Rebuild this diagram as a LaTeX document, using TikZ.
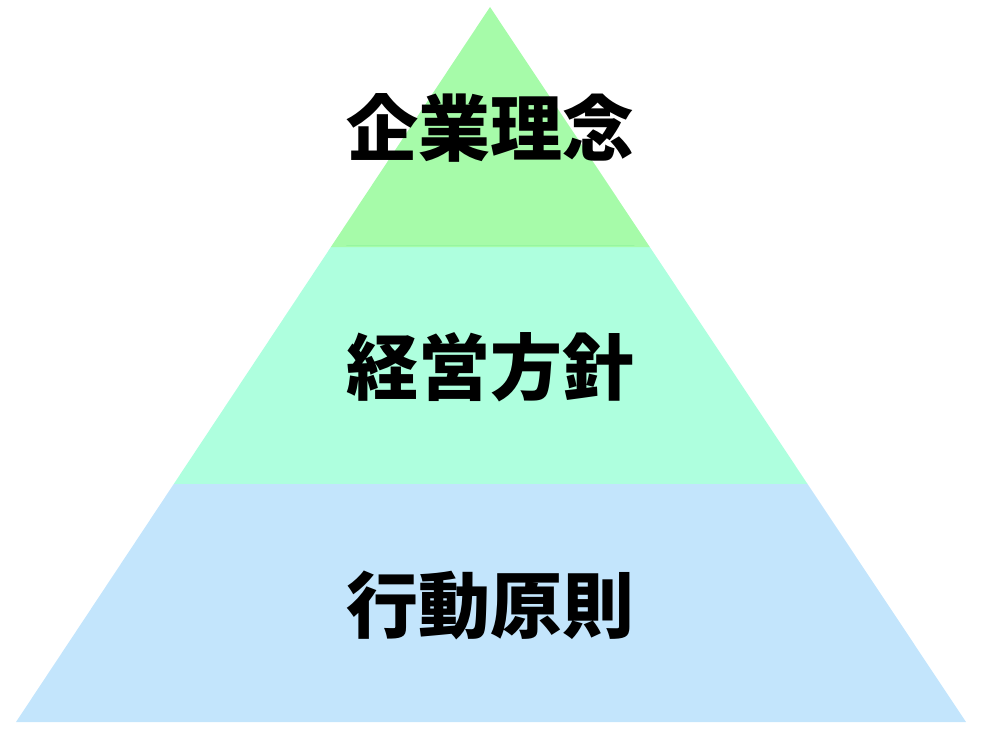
\documentclass[tikz,border=0pt]{standalone}
\usepackage{fontspec}
\newfontfamily\cjk{Noto Sans CJK JP}
\definecolor{topgreen}{RGB}{166,251,169}
\definecolor{midgreen}{RGB}{174,255,222}
\definecolor{botblue}{RGB}{195,229,252}
\definecolor{seam}{RGB}{150,246,160}
\tikzset{
  label/.style={font=\cjk\bfseries\fontsize{72}{72}\selectfont, text=black, inner sep=0pt, anchor=center},
}
\begin{document}
\begin{tikzpicture}[x=1pt,y=1pt]
\useasboundingbox (0,0) rectangle (984,748);
% geometry: apex (490,741), base y=26 from 16 to 966
\coordinate (apex) at (490,741);
\coordinate (bl) at (16,26);
\coordinate (br) at (966,26);
% boundary levels
\path (apex) -- (bl) coordinate[pos=0.3357] (l1) coordinate[pos=0.6671] (l2);
\path (apex) -- (br) coordinate[pos=0.3357] (r1) coordinate[pos=0.6671] (r2);
\fill[botblue] (l2) -- (r2) -- (br) -- (bl) -- cycle;
\fill[midgreen] (l1) -- (r1) -- (r2) -- (l2) -- cycle;
\fill[topgreen] (apex) -- (r1) -- (l1) -- cycle;
\draw[seam, line width=1.5pt, line cap=round] ([xshift=16pt,yshift=1.5pt]l1) -- ([xshift=-16pt,yshift=1.5pt]r1);
\node[label] (t1) at (490,620) {企業理念};
\node[label] (t2) at (490,381) {経営方針};
\node[label] (t3) at (490,143) {行動原則};
\end{tikzpicture}
\end{document}
